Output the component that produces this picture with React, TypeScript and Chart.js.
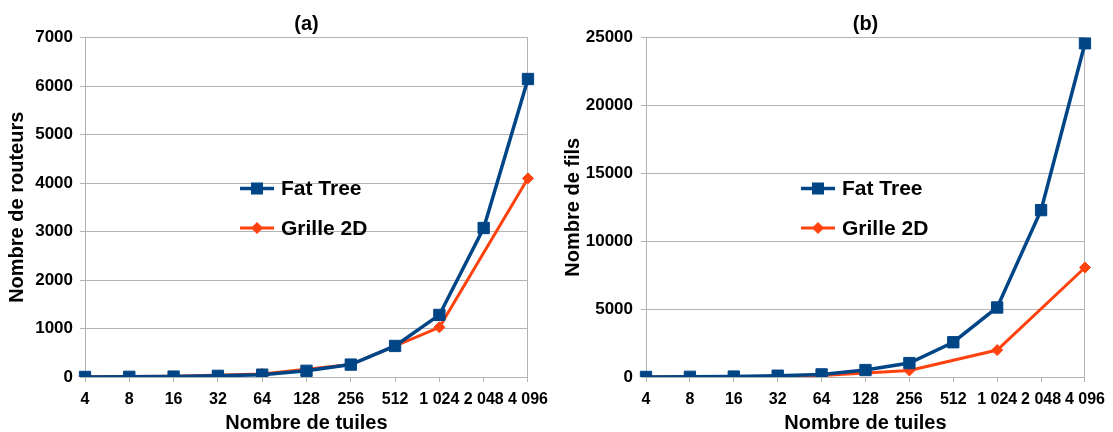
import React, { useEffect, useRef } from 'react';
import { Chart, registerables } from 'chart.js';

Chart.register(...registerables);

// ---- data ----
const categories = ['4', '8', '16', '32', '64', '128', '256', '512', '1 024', '2 048', '4 096'];
const seriesNames = ['Fat Tree', 'Grille 2D'];
// (a) Nombre de routeurs
const fatTreeRouters = [1, 4, 8, 24, 48, 128, 256, 640, 1280, 3072, 6144];
const grilleRouters = [4, null, 16, null, 64, null, 256, null, 1024, null, 4096];
// (b) Nombre de fils
const fatTreeWires = [4, 16, 32, 96, 192, 512, 1024, 2560, 5120, 12288, 24576];
const grilleWires = [4, null, 24, null, 112, null, 480, null, 1984, null, 8064];
const routerAxis = { min: 0, max: 7000, step: 1000 };
const wireAxis = { min: 0, max: 25000, step: 5000 };

const BLUE = '#004586';
const ORANGE = '#ff420e';
const GRID = '#b3b3b3';
const FONT = "'Liberation Sans', Arial, sans-serif";

const overlayPlugin = {
  id: 'overlay',
  afterDatasetsDraw(chart: any, _args: any, opts: any) {
    const { ctx, chartArea } = chart;
    ctx.save();
    ctx.fillStyle = '#000';
    ctx.font = `bold 20px ${FONT}`;
    ctx.textAlign = 'center';
    ctx.textBaseline = 'middle';
    ctx.fillText(opts.title, (chartArea.left + chartArea.right) / 2, opts.titleY);

    const x0 = chartArea.left + opts.legendDx;
    chart.data.datasets.forEach((ds: any, i: number) => {
      const y = chartArea.top + opts.legendDy[i];
      ctx.strokeStyle = ds.borderColor;
      ctx.lineWidth = ds.borderWidth;
      ctx.beginPath();
      ctx.moveTo(x0, y);
      ctx.lineTo(x0 + 34, y);
      ctx.stroke();
      ctx.fillStyle = ds.borderColor;
      const cx = x0 + 17;
      if (ds.pointStyle === 'rect') {
        const s = 6;
        ctx.fillRect(cx - s, y - s, 2 * s, 2 * s);
      } else {
        const r = 6;
        ctx.beginPath();
        ctx.moveTo(cx, y - r);
        ctx.lineTo(cx + r, y);
        ctx.lineTo(cx, y + r);
        ctx.lineTo(cx - r, y);
        ctx.closePath();
        ctx.fill();
      }
      ctx.fillStyle = '#000';
      ctx.font = `bold 21px ${FONT}`;
      ctx.textAlign = 'left';
      ctx.textBaseline = 'middle';
      ctx.fillText(ds.label, x0 + 41, y + 1);
    });
    ctx.restore();
  },
};

type PanelProps = {
  left: number;
  width: number;
  title: string;
  yTitle: string;
  fat: (number | null)[];
  grille: (number | null)[];
  axis: { min: number; max: number; step: number };
  yWidth: number;
  tickPad: number;
};

function Panel({ left, width, title, yTitle, fat, grille, axis, yWidth, tickPad }: PanelProps) {
  const ref = useRef<HTMLCanvasElement>(null);
  useEffect(() => {
    if (!ref.current) return;
    const chart = new Chart(ref.current, {
      type: 'line',
      data: {
        labels: categories,
        datasets: [
          {
            label: seriesNames[0],
            data: fat,
            borderColor: BLUE,
            backgroundColor: BLUE,
            borderWidth: 3.5,
            pointStyle: 'rect',
            pointRadius: 8,
            pointBorderWidth: 1,
            pointBackgroundColor: BLUE,
            pointBorderColor: BLUE,
            tension: 0,
            spanGaps: true,
          },
          {
            label: seriesNames[1],
            data: grille,
            borderColor: ORANGE,
            backgroundColor: ORANGE,
            borderWidth: 3,
            pointStyle: 'rectRot',
            pointRadius: 5.5,
            pointBorderWidth: 1,
            pointBackgroundColor: ORANGE,
            pointBorderColor: ORANGE,
            tension: 0,
            spanGaps: true,
          },
        ],
      },
      options: {
        responsive: false,
        animation: false,
        layout: { padding: { top: 37.5, right: 28, bottom: 0, left: 0 } },
        plugins: {
          legend: { display: false },
          tooltip: { enabled: false },
          title: { display: false },
          overlay: { title, titleY: 24, legendDx: 155, legendDy: [151, 190.5] },
        } as any,
        scales: {
          x: {
            type: 'category',
            offset: false,
            afterFit: (s: any) => {
              s.height = 55;
            },
            grid: {
              drawOnChartArea: true,
              color: (c: any) => (c.index === categories.length - 1 ? GRID : 'rgba(0,0,0,0)'),
              tickColor: GRID,
              tickLength: 5,
            },
            border: { display: true, color: GRID, width: 1 },
            ticks: {
              color: '#000',
              font: { family: FONT, size: 16, weight: 'bold' },
              padding: 8,
              maxRotation: 0,
              autoSkip: false,
            },
            title: {
              display: true,
              text: 'Nombre de tuiles',
              color: '#000',
              font: { family: FONT, size: 20, weight: 'bold', lineHeight: 0.85 },
              padding: 0,
            },
          },
          y: {
            min: axis.min,
            max: axis.max,
            afterFit: (s: any) => {
              s.width = yWidth;
            },
            grid: { color: GRID, tickColor: GRID, tickLength: 5 },
            border: { display: true, color: GRID, width: 1 },
            ticks: {
              stepSize: axis.step,
              color: '#000',
              font: { family: FONT, size: 17, weight: 'bold' },
              padding: tickPad,
              callback: (v: any) => String(v),
            },
            title: {
              display: true,
              text: yTitle,
              color: '#000',
              font: { family: FONT, size: 20, weight: 'bold' },
              padding: { top: 5.5, bottom: 0 },
            },
          },
        },
      },
      plugins: [overlayPlugin as any],
    } as any);
    return () => chart.destroy();
  }, []);
  return (
    <div style={{ position: 'absolute', left, top: 0, width, height: 432 }}>
      <canvas ref={ref} width={width} height={432} style={{ width, height: 432, display: 'block' }} />
    </div>
  );
}

export default function App() {
  return (
    <div style={{ position: 'fixed', left: 0, top: 0, width: 1113, height: 432, background: '#fff' }}>
      <Panel
        left={0}
        width={556}
        title="(a)"
        yTitle="Nombre de routeurs"
        fat={fatTreeRouters}
        grille={grilleRouters}
        axis={routerAxis}
        yWidth={85}
        tickPad={7}
      />
      <Panel
        left={556}
        width={557}
        title="(b)"
        yTitle="Nombre de fils"
        fat={fatTreeWires}
        grille={grilleWires}
        axis={wireAxis}
        yWidth={90}
        tickPad={8}
      />
    </div>
  );
}
